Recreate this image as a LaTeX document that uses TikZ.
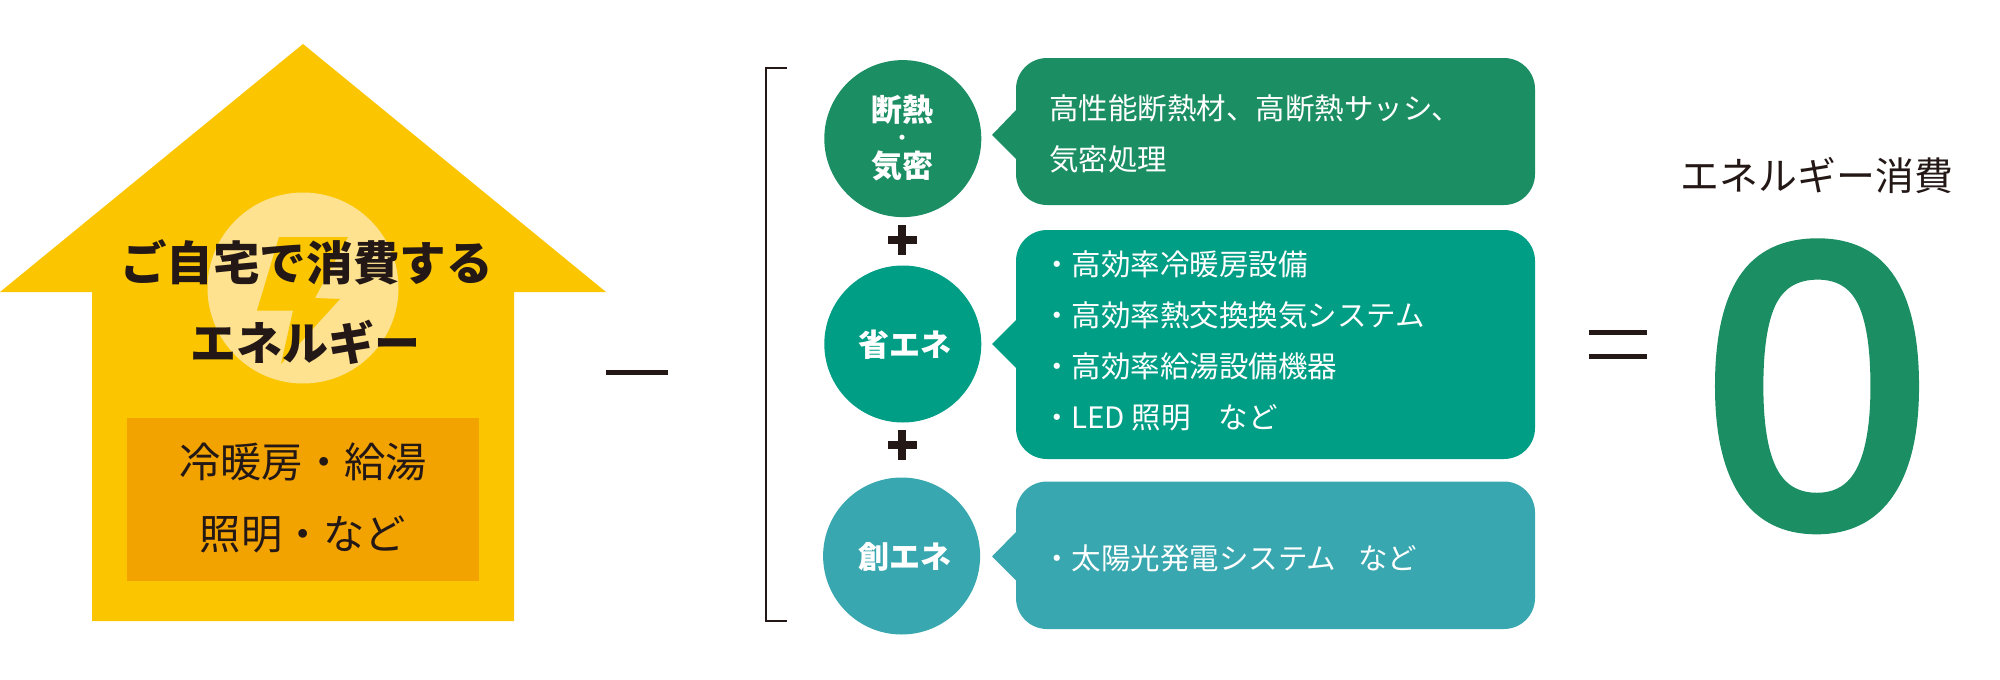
\documentclass[tikz,border=0pt]{standalone}
\usepackage{fontspec}
\setmainfont{Noto Sans CJK JP}
\newfontfamily\zerofont[FakeBold=3.2]{Liberation Sans}
\definecolor{inkc}{HTML}{231815}
\definecolor{yelc}{HTML}{FBC500}
\definecolor{orac}{HTML}{F3A300}
\definecolor{palec}{HTML}{FEE28F}
\definecolor{grnc}{HTML}{1C8E63}
\definecolor{teac}{HTML}{009E85}
\definecolor{aquc}{HTML}{38A7AF}
\tikzset{
  jp/.style={font=\fontsize{#1}{#1}\selectfont, text height=.88*#1pt, text depth=.12*#1pt, inner sep=0pt, outer sep=0pt, text=inkc},
  jpb/.style={font=\fontsize{#1}{#1}\selectfont\bfseries, text height=.88*#1pt, text depth=.12*#1pt, inner sep=0pt, outer sep=0pt, text=inkc},
  disc/.style={circle, fill=#1, minimum size=157pt, inner sep=0pt, outer sep=0pt},
  panel/.style={rectangle, fill=#1, rounded corners=31pt, inner sep=0pt, outer sep=0pt, anchor=north west, minimum width=519pt},
  wt/.style={jp=29.5, text=white, anchor=west},
  wb/.style={jpb=31, text=white}
}
\begin{document}
\begin{tikzpicture}[x=1pt,y=-1pt]
\useasboundingbox (0,0) rectangle (2000,680);
% house
\fill[yelc] (303,44) -- (606,292) -- (514,292) -- (514,621) -- (92,621) -- (92,292) -- (0,292) -- cycle;
\node[circle, fill=palec, minimum size=191pt, inner sep=0pt] (sun) at (303,288) {};
\fill[yelc] (279,237) -- (348,237) -- (315,298) -- (340,299) -- (281,364) -- (293,310.5) -- (257,310.5) -- cycle;
\node[jpb=46.6] (t1) at (306.5,263) {ご自宅で消費する};
\node[jpb=46] (t2) at (305,343) {エネルギー};
\node[fill=orac, minimum width=352.5pt, minimum height=163pt, inner sep=0pt, anchor=north west] (inner) at (126.5,418) {};
\node[jp=41.3] (t3) at (303,462) {冷暖房・給湯};
\node[jp=41.3] (t4) at (303,534) {照明・など};
% minus
\fill[inkc] (606,369.5) rectangle (668,374.5);
% bracket
\draw[inkc, line width=2.2pt] (787,67.7) -- (766,67.7) -- (766,621) -- (787,621);
% discs
\node[disc=grnc] (d1) at (902.8,138.6) {};
\node[disc=teac] (d2) at (902.8,344) {};
\node[disc=aquc] (d3) at (901.6,556) {};
\node[wb] (d1a) at (902,110) {断熱};
\node[jpb=18, text=white] (d1b) at (902,137.6) {・};
\node[wb] (d1c) at (902,166) {気密};
\node[wb] (d2a) at (904.5,345) {省エネ};
\node[wb] (d3a) at (904.5,557) {創エネ};
% plus
\fill[inkc] (898,225) rectangle (906,255);
\fill[inkc] (888,236) rectangle (917,244);
\fill[inkc] (898,430) rectangle (906,460);
\fill[inkc] (888,441) rectangle (917,449);
% bubbles
\node[panel=grnc, minimum height=147pt] (b1) at (1016,58) {};
\node[panel=teac, minimum height=229pt] (b2) at (1016,230) {};
\node[panel=aquc, minimum height=147.5pt] (b3) at (1016,481.5) {};
\coordinate (p1) at (992,135);
\coordinate (p2) at (992,344);
\coordinate (p3) at (992,556.5);
\fill[grnc] (p1) -- (1017,109) -- (1017,160) -- cycle;
\fill[teac] (p2) -- (1017,319) -- (1017,369) -- cycle;
\fill[aquc] (p3) -- (1017,531) -- (1017,581.5) -- cycle;
\node[wt] (l1) at (1049,108) {高性能断熱材、高断熱サッシ、};
\node[wt] (l2) at (1049,159) {気密処理};
\node[wt] (l3) at (1042,264) {・高効率冷暖房設備};
\node[wt] (l4) at (1042,315.5) {・高効率熱交換換気システム};
\node[wt] (l5) at (1042,366) {・高効率給湯設備機器};
\node[wt] (l6) at (1042,417.5) {・LED 照明\hspace{28pt}など};
\node[wt] (l7) at (1042,558.6) {・太陽光発電システム\hspace{22pt}など};
% equals
\fill[inkc] (1589,330) rectangle (1647,335);
\fill[inkc] (1589,354) rectangle (1647,359);
\node[jp=38.9] (t5) at (1817,176) {エネルギー消費};
\node[font=\fontsize{400}{400}\selectfont\zerofont, text=grnc, inner sep=0pt, anchor=base] (zero) at (1817,524) {0};
\end{tikzpicture}
\end{document}
